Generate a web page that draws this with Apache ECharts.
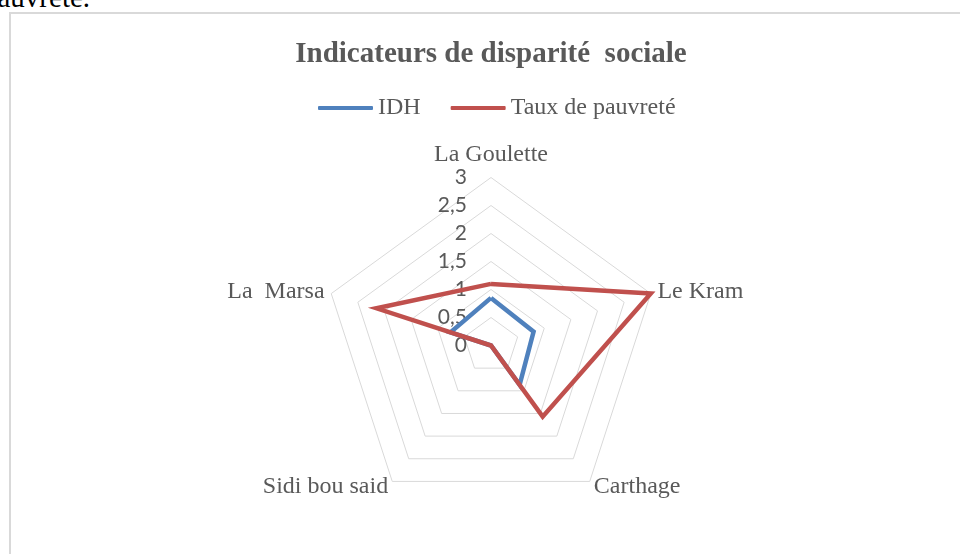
<!DOCTYPE html>
<html>
<head>
<meta charset="utf-8">
<title>Indicateurs de disparité sociale</title>
<script src="https://cdn.jsdelivr.net/npm/echarts@6/dist/echarts.min.js"></script>
<style>
html, body {
  margin: 0;
  padding: 0;
  background: #ffffff;
  overflow: hidden;
}
#page {
  position: relative;
  width: 960px;
  height: 554px;
  overflow: hidden;
}
#doc-text {
  position: absolute;
  left: -17px;
  top: -17px;
  font-family: "Liberation Serif", "Times New Roman", serif;
  font-size: 29px;
  line-height: 28px;
  color: #000000;
  white-space: nowrap;
}
#chart-frame {
  position: absolute;
  left: 9px;
  top: 12px;
  width: 1000px;
  height: 600px;
  border: 2px solid #d9d9d9;
}
#chart {
  position: absolute;
  left: 0;
  top: 0;
  width: 960px;
  height: 554px;
}
</style>
</head>
<body>
<div id="page">
  <div id="doc-text">pauvreté.</div>
  <div id="chart-frame"></div>
  <div id="chart"></div>
</div>
<script>
// communes, dans l'ordre des axes d'ECharts (sens anti-horaire depuis le haut)
var categories = ['La Goulette', 'La  Marsa', 'Sidi bou said', 'Carthage', 'Le Kram']
var idhValues = [0.85, 0.76, 0, 0.87, 0.80]
var pauvreteValues = [1.1, 2.15, 0, 1.57, 3.0]
var seriesNames = ['IDH', 'Taux de pauvreté']
var axisMin = 0
var axisMax = 3
var axisSplits = 6

var grey = '#595959'
var serif = '"Liberation Serif", "Times New Roman", serif'

// only the first (vertical) axis carries the tick labels
var indicators = categories.map(function (name, i) {
  var ind = { name: name, min: axisMin, max: axisMax }
  if (i > 0) {
    ind.axisLabel = { show: false }
  }
  return ind
})

var chart = echarts.init(document.getElementById('chart'), null, { renderer: 'canvas' })
chart.setOption({
  backgroundColor: 'transparent',
  animation: false,
  title: {
    text: 'Indicateurs de disparité  sociale',
    left: 486,
    top: 35,
    textAlign: 'center',
    textStyle: {
      color: grey,
      fontFamily: serif,
      fontWeight: 'bold',
      fontSize: 29
    }
  },
  legend: {
    data: seriesNames,
    left: 318,
    top: 96,
    padding: 0,
    icon: 'roundRect',
    itemWidth: 55,
    itemHeight: 4,
    itemGap: 30,
    textStyle: {
      color: grey,
      fontFamily: serif,
      fontSize: 24
    }
  },
  radar: {
    center: [491, 345.5],
    radius: 168,
    shape: 'polygon',
    startAngle: 90,
    splitNumber: axisSplits,
    indicator: indicators,
    axisName: {
      color: grey,
      fontFamily: serif,
      fontSize: 24
    },
    axisNameGap: 7,
    axisLine: { show: false },
    axisTick: { show: false },
    axisLabel: {
      show: true,
      margin: 24,
      color: grey,
      fontFamily: 'Lato, "Open Sans", sans-serif',
      fontSize: 21,
      formatter: function (v) {
        return String(v).replace('.', ',')
      }
    },
    splitLine: {
      lineStyle: { color: '#d9d9d9', width: 1 }
    },
    splitArea: { show: false }
  },
  series: [{
    type: 'radar',
    symbol: 'none',
    data: [
      {
        name: seriesNames[0],
        value: idhValues,
        itemStyle: { color: '#4f81bd' },
        lineStyle: { color: '#4f81bd', width: 4.5, join: 'miter' }
      },
      {
        name: seriesNames[1],
        value: pauvreteValues,
        itemStyle: { color: '#c0504d' },
        lineStyle: { color: '#c0504d', width: 4.5, join: 'miter' }
      }
    ]
  }]
})
</script>
</body>
</html>
